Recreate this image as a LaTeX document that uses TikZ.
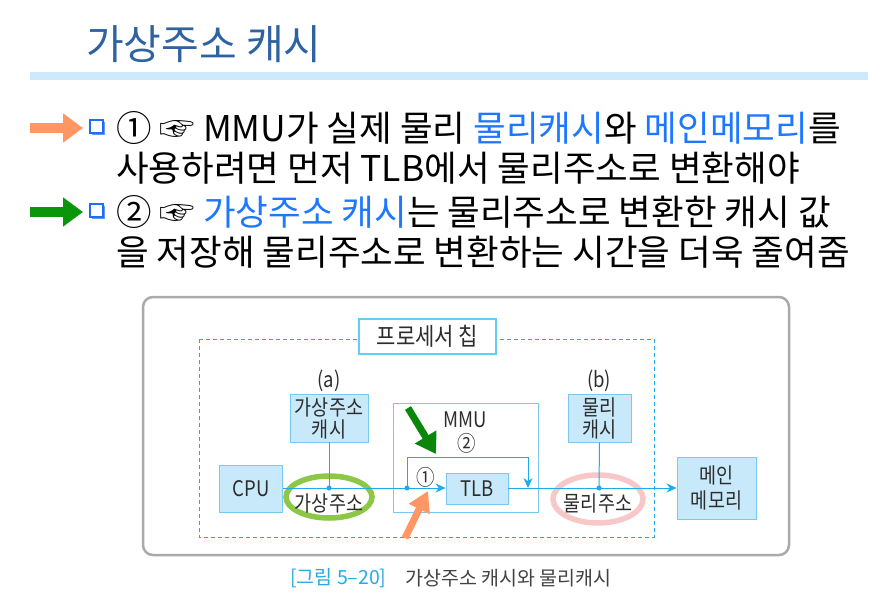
\documentclass[tikz,border=0pt]{standalone}
\usepackage{fontspec}
\usepackage{graphicx}
\setmainfont{Noto Sans CJK KR}
\usetikzlibrary{arrows.meta,shapes.geometric}
\definecolor{titleblue}{RGB}{46,98,160}
\definecolor{bandblue}{RGB}{205,233,251}
\definecolor{hlblue}{RGB}{30,120,255}
\definecolor{bulblue}{RGB}{30,110,250}
\definecolor{orng}{RGB}{255,150,100}
\definecolor{grn}{RGB}{10,150,10}
\definecolor{dgrn}{RGB}{10,135,10}
\definecolor{boxfill}{RGB}{200,233,250}
\definecolor{boxline}{RGB}{120,200,240}
\definecolor{linec}{RGB}{30,170,235}
\definecolor{chipline}{RGB}{100,205,245}
\definecolor{outerg}{RGB}{170,170,170}
\definecolor{elgreen}{RGB}{140,200,70}
\definecolor{elpink}{RGB}{248,200,200}
\definecolor{txtg}{RGB}{45,45,45}
\definecolor{capblue}{RGB}{40,170,225}
\newcommand{\tall}[1]{\scalebox{1}[1.16]{#1}}
\tikzset{
  box/.style={draw=boxline, fill=boxfill, line width=0.9pt, inner sep=0pt, text=txtg, font=\fontsize{18.5}{22}\selectfont, align=center},
  conn/.style={draw=linec, line width=1pt},
  arr/.style={conn, -{Stealth[length=10pt,width=9pt]}},
  dotc/.style={circle, fill=linec, inner sep=0pt, minimum size=5pt},
  lbl/.style={text=txtg, font=\fontsize{18.5}{22}\selectfont, inner sep=0pt},
  bline/.style={anchor=west, inner sep=0pt, font=\fontsize{35.5}{40}\selectfont},
}
\newcommand{\bulsq}[2]{%
  \fill[bulblue!70] (#1+2,#2+2) rectangle (#1+15,#2+15);
  \draw[bulblue, fill=white, line width=1.8pt] (#1,#2) rectangle (#1+13,#2+13);}
\begin{document}
\begin{tikzpicture}[x=1pt,y=-1pt]
\useasboundingbox (0,0) rectangle (885,604);
% title
\node[anchor=west, inner sep=0pt, text=titleblue, font=\fontsize{41}{46}\selectfont] (title) at (86,44) {가상주소 캐시};
\fill[bandblue] (30,72) rectangle (868,80);
% bullet arrows
\coordinate (oa1) at (30,128); \coordinate (oa2) at (83,128);
\draw[orng, line width=10pt, -{Triangle[length=20pt,width=28pt]}] (oa1) -- (oa2);
\coordinate (ga1) at (30,212); \coordinate (ga2) at (83,212);
\draw[grn, line width=10pt, -{Triangle[length=20pt,width=28pt]}] (ga1) -- (ga2);
\bulsq{90}{120}
\bulsq{90}{204}
% bullet text
\node[bline] (l1) at (116,128) {① ☞ MMU가 실제 물리 \textcolor{hlblue}{물리캐시}와 \textcolor{hlblue}{메인메모리}를};
\node[bline] (l2) at (116,168) {사용하려면 먼저 TLB에서 물리주소로 변환해야};
\node[bline] (l3) at (116,212) {② ☞ \textcolor{hlblue}{가상주소 캐시}는 물리주소로 변환한 캐시 값};
\node[bline] (l4) at (116,252) {을 저장해 물리주소로 변환하는 시간을 더욱 줄여줌};
% diagram frame
\draw[outerg, line width=2.5pt, rounded corners=10pt] (143,297) rectangle (789,555);
\draw[linec, line width=1pt, dash pattern=on 4pt off 3pt] (199,339) rectangle (654,537);
\node[draw=chipline, fill=white, line width=2.5pt, minimum width=137, minimum height=35, inner sep=0pt, text=txtg, font=\fontsize{21}{24}\selectfont] (chip) at (427.5,336.5) {\tall{프로세서 칩}};
% MMU
\node[draw=boxline, line width=0.9pt, minimum width=145, minimum height=109, inner sep=0pt] (mmu) at (465.5,457.5) {};
\node[lbl] (mmul) at (465,420) {\tall{MMU}};
\node[lbl] (c2) at (467,443) {\tall{②}};
\node[lbl] (c1) at (426,477) {\tall{①}};
% boxes
\node[box, minimum width=63, minimum height=47] (cpu) at (251,488.5) {\tall{CPU}};
\node[box, minimum width=78, minimum height=48] (vac) at (329,418) {\tall{가상주소}\\[0pt]\tall{캐시}};
\node[box, minimum width=62, minimum height=31] (tlb) at (477,488.5) {\tall{TLB}};
\node[box, minimum width=63, minimum height=48] (pc) at (599.5,418) {\tall{물리}\\[0pt]\tall{캐시}};
\node[box, minimum width=79, minimum height=62] (mem) at (716.5,488) {\tall{메인}\\[3pt]\tall{메모리}};
\node[lbl] (la) at (329,381) {\tall{(a)}};
\node[lbl] (lb) at (599,381) {\tall{(b)}};
% ellipses
\node[draw=elgreen, line width=5.5pt, ellipse, minimum width=86, minimum height=42, inner sep=0pt] (ge) at (329,497) {};
\node[draw=elpink, line width=5.5pt, ellipse, minimum width=90, minimum height=48, inner sep=0pt] (pe) at (598,499) {};
% connectors
\coordinate (da) at (329,488);
\coordinate (dm) at (407,488);
\coordinate (db) at (599,488);
\coordinate (bpc) at (528,457);
\coordinate (bpj) at (528,488);
\draw[arr] (cpu.east |- da) -- (tlb.west |- da);
\draw[arr] (tlb.east |- da) -- (mem.west |- da);
\draw[conn] (vac.south) -- (da);
\draw[conn] (pc.south) -- (db);
\draw[arr] (dm) |- (bpc) -- (bpj);
\node[dotc] (dota) at (da) {};
\node[dotc] (dotm) at (dm) {};
\node[dotc] (dotb) at (db) {};
\node[lbl] (vat) at (329,503) {\tall{가상주소}};
\node[lbl] (pat) at (598,503) {\tall{물리주소}};
% pointer arrows
\coordinate (gp1) at (408,408); \coordinate (gp2) at (436,454);
\draw[dgrn, line width=7pt, -{Triangle[length=20pt,width=24pt]}] (gp1) -- (gp2);
\coordinate (op1) at (405,538); \coordinate (op2) at (428,491);
\draw[orng, line width=7pt, -{Triangle[length=20pt,width=22pt]}] (op1) -- (op2);
% caption
\node[anchor=west, inner sep=0pt, text=capblue, font=\fontsize{19.5}{22}\selectfont] (cap1) at (290,578) {[그림 5–20]};
\node[anchor=west, inner sep=0pt, text=txtg!90, font=\fontsize{19.5}{22}\selectfont] (cap2) at (405,578) {가상주소 캐시와 물리캐시};
\end{tikzpicture}
\end{document}
